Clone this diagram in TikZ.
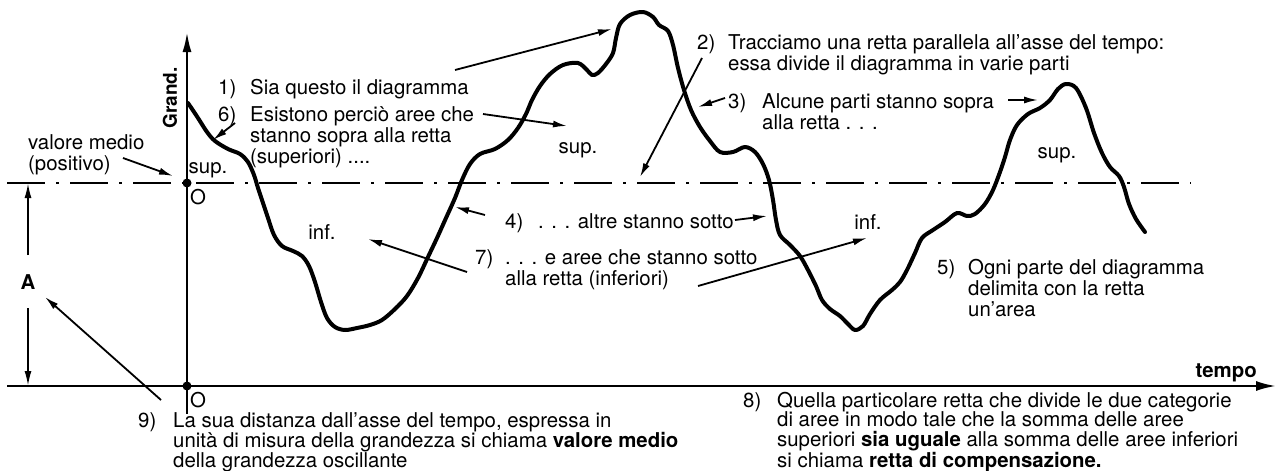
\documentclass[tikz,border=0pt]{standalone}
\usepackage{fontspec}
\setmainfont{TeX Gyre Heros}
\usetikzlibrary{arrows.meta, positioning}

\tikzset{
  wave/.style={line width=4pt, line cap=round, line join=round},
  axisline/.style={line width=2.3pt},
  pointer/.style={line width=1.8pt, -{Latex[length=14pt,width=7pt]}},
  meanline/.style={line width=2pt, dash pattern=on 38pt off 11pt on 3pt off 11pt},
  note/.style={inner sep=0pt, anchor=north west, align=left, font=\fontsize{20.4}{21}\selectfont},
  lownote/.style={note, font=\fontsize{20.4}{19.5}\selectfont},
  areatag/.style={inner sep=0pt, font=\fontsize{20.4}{21}\selectfont},
}

\begin{document}
\begin{tikzpicture}[x=1pt, y=-1pt]
\useasboundingbox (0,0) rectangle (1278,471);

% ---- axes and compensation line
\coordinate (ybot) at (187,414);
\coordinate (ytop) at (187,32);
\coordinate (tleft) at (7,386);
\coordinate (tright) at (1276,386);
\coordinate (mleft) at (7,183);
\coordinate (mright) at (1191,183);
\coordinate (orig) at (187,386);
\coordinate (omean) at (187,183);
\draw[axisline, -{Latex[length=20pt,width=9pt]}] (ybot) -- (ytop);
\draw[axisline, -{Latex[length=20pt,width=10pt]}] (tleft) -- (tright);
\draw[meanline] (mleft) -- (mright);
\fill (orig) circle (4.5pt);
\fill (omean) circle (4.5pt);
\node[areatag] (o1) at (198,197) {O};
\node[areatag] (o2) at (198,400) {O};
\node[areatag, font=\fontsize{19}{19}\selectfont\bfseries, rotate=90] (grand) at (170,98) {Grand.};
\node[areatag, font=\fontsize{20.4}{21}\selectfont\bfseries, anchor=base east] (tempo) at (1257,377) {tempo};

% ---- the oscillating quantity
\draw[wave] plot[smooth, tension=0.55] coordinates {
  (188,103) (198,118) (207,132) (215,141) (228,149) (240,154) (248,162)
  (254,175) (258,188) (263,203) (268,218) (274,235) (282,246) (293,251)
  (302,256) (309,266) (315,282) (321,302) (327,318) (335,327) (345,330)
  (357,328) (370,325) (382,320) (395,309) (407,296) (418,278) (428,257)
  (437,238) (446,218) (455,198) (462,180) (470,164) (480,154) (495,149)
  (508,140) (518,128) (526,114) (532,100) (540,86) (550,74) (563,65)
  (578,63) (587,70) (592,75) (598,73) (606,64) (613,53) (616,38) (620,24)
  (630,15) (643,12) (653,17) (659,25) (668,31) (673,45) (678,68) (684,90)
  (691,110) (700,127) (710,141) (720,152) (733,152) (745,147) (755,152)
  (763,164) (769,180) (773,200) (776,220) (780,235) (790,245) (800,256)
  (808,270) (816,286) (822,300) (830,309) (840,316) (848,324) (855,330)
  (863,326) (870,314) (880,300) (892,290) (900,282) (907,270) (915,253)
  (922,238) (933,230) (945,222) (957,213) (967,216) (975,214) (985,204)
  (993,190) (1000,172) (1005,157) (1010,140) (1017,125) (1028,114)
  (1040,108) (1050,100) (1058,89) (1066,84) (1076,88) (1086,108)
  (1094,133) (1102,153) (1110,167) (1119,176) (1124,187) (1129,204)
  (1136,219) (1145,232)};

% ---- area tags
\node[areatag] (sup1) at (208,170) {sup.};
\node[areatag] (inf1) at (322,232) {inf.};
\node[areatag] (sup2) at (578,150) {sup.};
\node[areatag] (inf2) at (868,222) {inf.};
\node[areatag] (sup3) at (1057,155) {sup.};

% ---- mean value A
\node[areatag, font=\fontsize{20.4}{21}\selectfont\bfseries] (alab) at (28,282) {A};
\coordinate (atop) at (28,255);
\coordinate (abot) at (28,308);
\draw[pointer, -{Latex[length=15pt,width=7pt]}] (atop) -- (28,183);
\draw[pointer, -{Latex[length=15pt,width=7pt]}] (abot) -- (28,386);

% ---- notes
\node[note] (vm) at (28,134) {valore medio\\(positivo)};
\node[note] (n1) at (218,79) {1)};
\node[note] (t1) at (250,79) {Sia questo il diagramma};
\node[note] (n6) at (218,106) {6)};
\node[note] (t6) at (250,106) {Esistono perciò aree che\\stanno sopra alla retta\\(superiori) ....};
\node[note] (n2) at (697,34) {2)};
\node[note] (t2) at (728,34) {Tracciamo una retta parallela all’asse del tempo:\\essa divide il diagramma in varie parti};
\node[note] (n3) at (728,93) {3)};
\node[note] (t3) at (762,93) {Alcune parti stanno sopra\\alla retta . . .};
\node[note] (n4) at (505,213) {4)};
\node[note] (t4) at (538,213) {. . . altre stanno sotto};
\node[note] (n7) at (475,249) {7)};
\node[note] (t7) at (505,249) {. . . e aree che stanno sotto\\alla retta (inferiori)};
\node[note] (n5) at (937,259) {5)};
\node[note] (t5) at (968,259) {Ogni parte del diagramma\\delimita con la retta\\un’area};
\node[lownote] (n8) at (743,392) {8)};
\node[lownote] (t8) at (777,392) {Quella particolare retta che divide le due categorie\\di aree in modo tale che la somma delle aree\\superiori \textbf{sia uguale} alla somma delle aree inferiori\\si chiama \textbf{retta di compensazione.}};
\node[lownote] (n9) at (138,412) {9)};
\node[lownote] (t9) at (173,412) {La sua distanza dall’asse del tempo, espressa in\\unità di misura della grandezza si chiama \textbf{valore medio}\\della grandezza oscillante};

% ---- pointers from the notes to the picture
\coordinate (vmfrom) at (123,158);  \coordinate (vmto) at (173,176);
\coordinate (p1from) at (455,70);   \coordinate (p1to) at (612,29);
\coordinate (p6afrom) at (235,123); \coordinate (p6ato) at (213,140);
\coordinate (p6bfrom) at (483,114); \coordinate (p6bto) at (567,126);
\coordinate (p2from) at (702,58);   \coordinate (p2to) at (640,177);
\coordinate (p3afrom) at (725,98);  \coordinate (p3ato) at (698,107);
\coordinate (p3bfrom) at (1008,100); \coordinate (p3bto) at (1038,100);
\coordinate (p4afrom) at (485,215); \coordinate (p4ato) at (455,207);
\coordinate (p4bfrom) at (735,220); \coordinate (p4bto) at (767,216);
\coordinate (p7afrom) at (467,272); \coordinate (p7ato) at (368,239);
\coordinate (p7bfrom) at (698,286); \coordinate (p7bto) at (867,238);
\coordinate (p9from) at (161,400);  \coordinate (p9to) at (45,297);
\foreach \p in {vm,p1,p6a,p6b,p2,p3a,p3b,p4a,p4b,p7a,p7b,p9}
  \draw[pointer] (\p from) -- (\p to);
\end{tikzpicture}
\end{document}
